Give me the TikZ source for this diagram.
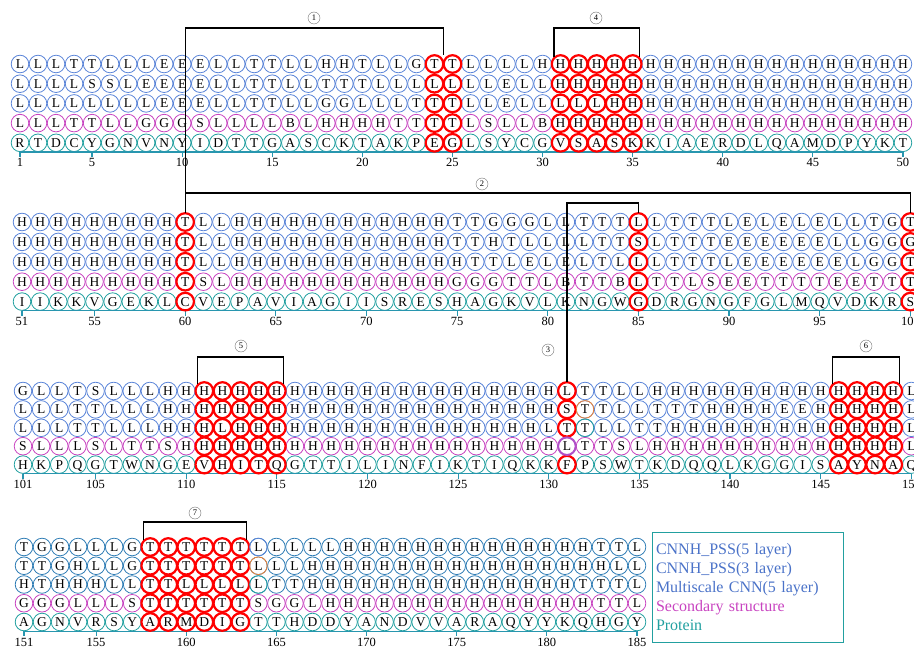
\documentclass[tikz,border=0pt]{standalone}
\usepackage{fontspec}
\setmainfont{Liberation Serif}
\usetikzlibrary{calc}
\definecolor{rowblue}{RGB}{90,132,216}
\definecolor{rowsteel}{RGB}{47,125,181}
\definecolor{rowmagenta}{RGB}{200,67,192}
\definecolor{rowteal}{RGB}{34,160,160}
\definecolor{axisteal}{RGB}{40,150,175}
\definecolor{ringorange}{RGB}{240,130,50}
\definecolor{ringpurple}{RGB}{176,80,200}
\definecolor{legendblue}{RGB}{74,114,200}

% one row of residues: \seqrow{first index}{row}{colour} LETTERS \relax
\newcount\aacol
\newcommand{\setblock}[4]{\def\bkx{#1}\def\bks{#2}\def\bky{#3}\def\bkdy{#4}}
\newcommand{\seqrow}[3]{\def\sqfirst{#1}\def\sqrow{#2}\def\sqcolor{#3}%
  \aacol=0 \pgfmathsetmacro\sqy{\bky+(#2-1)*\bkdy}\seqnext}
\newcommand{\seqnext}[1]{\ifx#1\relax\else
  \pgfmathsetmacro\sqx{\bkx+\the\aacol*\bks}%
  \pgfmathtruncatemacro\sqidx{\sqfirst+\the\aacol}%
  \node[res=\sqcolor] (c\sqidx r\sqrow) at (\sqx,\sqy) {#1};%
  \advance\aacol by 1 %
  \expandafter\seqnext\fi}

\begin{document}
\begin{tikzpicture}[x=1pt, y=-1pt,
  res/.style={circle, draw=#1, line width=0.8pt, minimum size=17.6pt, inner sep=0pt,
              text height=8.9pt, text depth=0pt, font=\fontsize{13.5}{13.5}\selectfont},
  hl/.style={draw=red, line width=2.2pt},
  recol/.style={draw=#1, line width=0.8pt},
  bond/.style={draw=black, line width=1.2pt},
  bondlbl/.style={circle, draw=black!55, line width=0.4pt, inner sep=0pt,
                  minimum size=12pt, font=\fontsize{8.5}{8.5}\selectfont},
  axisline/.style={draw=axisteal, line width=1.2pt},
  ticklbl/.style={anchor=north, inner sep=1pt, font=\fontsize{12.5}{12.5}\selectfont},
  legendbox/.style={draw=rowteal, line width=1pt, minimum width=191pt,
                    minimum height=110pt, text width=183pt, align=left,
                    inner sep=4pt, font=\fontsize{16}{19}\selectfont}
]
\useasboundingbox (0,0) rectangle (914,650);

% block 1: residues 1-50
\setblock{20}{18.02}{64}{19.7}
\seqrow{1}{1}{rowblue} LLLTTLLLEE ELLTTLLHHT LLGTTLLLLH HHHHHHHHHH HHHHHHHHHH\relax
\seqrow{1}{2}{rowblue} LLLLSSLEEE ELLTTLLTTT LLLLLLLELL HHHHHHHHHH HHHHHHHHHH\relax
\seqrow{1}{3}{rowblue} LLLLLLLLEE ELLTTLLGGL LLTTTLLELL LLLHHHHHHH HHHHHHHHHH\relax
\seqrow{1}{4}{rowmagenta} LLLTTLLGGG SLLLLBLHHH HTTTTLSLLB HHHHHHHHHH HHHHHHHHHH\relax
\seqrow{1}{5}{rowteal} RTDCYGNVNY IDTTGASCKT AKPEGLSYCG VSASKKIAER DLQAMDPYKT\relax

% block 2: residues 51-100
\setblock{22}{18.13}{222}{19.9}
\seqrow{51}{1}{rowblue} HHHHHHHHHT LLHHHHHHHH HHHHTTGGGL LTTTLLTTTL ELELELLTGT\relax
\seqrow{51}{2}{rowblue} HHHHHHHHHT LLHHHHHHHH HHHHTTHTLL LLTTSLTTTE EEEEELLGGG\relax
\seqrow{51}{3}{rowblue} HHHHHHHHHT LLHHHHHHHH HHHHHTTLEL ELTLLLTTTL EEEEEELGGT\relax
\seqrow{51}{4}{rowmagenta} HHHHHHHHHT SLHHHHHHHH HHHHGGGTTL BTTBLTTLSE ETTTTEETTT\relax
\seqrow{51}{5}{rowteal} IIKKVGEKLC VEPAVIAGII SRESHAGKVL KNGWGDRGNG FGLMQVDKRS\relax

% block 3: residues 101-150
\setblock{23}{18.13}{391}{18.4}
\seqrow{101}{1}{rowblue} GLLTSLLLHH HHHHHHHHHH HHHHHHHHHH LTTLLHHHHH HHHHHHHHHL\relax
\seqrow{101}{2}{rowblue} LLLTTLLLHH HHHHHHHHHH HHHHHHHHHH STTLLTTTHH HHEEHHHHHL\relax
\seqrow{101}{3}{rowblue} LLLTTLLLHH HLHHHHHHHH HHHHHHHHHL TTLLTTHHHH HHHHHHHHHL\relax
\seqrow{101}{4}{rowmagenta} SLLLSLTTSH HHHHHHHHHH HHHHHHHHHH LTTSLHHHHH HHHHHHHHHL\relax
\seqrow{101}{5}{rowteal} HKPQGTWNGE VHITQGTTIL INFIKTIQKK FPSWTKDQQL KGGISAYNAQ\relax

% block 4: residues 151-185
\setblock{24}{18.03}{547}{18.75}
\seqrow{151}{1}{rowsteel} TGGLLLGTTT TTTLLLLLHH HHHHHHHHHH HHTTL\relax
\seqrow{151}{2}{rowsteel} TTGHLLGTTT TTTLLLHHHH HHHHHHHHHH HHHLL\relax
\seqrow{151}{3}{rowsteel} HTHHHLLTTL LLLLTTHHHH HHHHHHHHHH HTTTL\relax
\seqrow{151}{4}{rowmagenta} GGGLLLSTTT TTTSGGLHHH HHHHHHHHHH HHTTL\relax
\seqrow{151}{5}{rowteal} AGNVRSYARM DIGTTHDDYA NDVVARAQYY KQHGY\relax

% position axes
\draw[axisline] (c1r5.south) -- (c50r5.south);
\foreach \k in {1,5,10,...,50}
  \draw[axisline] (c\k r5.south) -- ++(0,5) node[ticklbl] (t\k) {\k};
\draw[axisline] (c51r5.south) -- (c100r5.south);
\foreach \k in {51,55,60,...,100}
  \draw[axisline] (c\k r5.south) -- ++(0,5) node[ticklbl] (t\k) {\k};
\draw[axisline] (c101r5.south) -- (c150r5.south);
\foreach \k in {101,105,110,...,150}
  \draw[axisline] (c\k r5.south) -- ++(0,5) node[ticklbl] (t\k) {\k};
\draw[axisline] (c151r5.south) -- (c185r5.south);
\foreach \k in {151,155,160,...,185}
  \draw[axisline] (c\k r5.south) -- ++(0,5) node[ticklbl] (t\k) {\k};

% highlighted residues
\foreach \ci in {24,25,31,32,33,34,35,60,85,100,111,112,113,114,115,
                 146,147,148,149,158,159,160,161,162,163}
  \foreach \ri in {1,...,5}
    \draw[hl] (c\ci r\ri.center) circle[radius=8.8pt];
\foreach \ri in {1,2,3,5}
  \draw[hl] (c131r\ri.center) circle[radius=8.8pt];
\draw[draw=ringpurple, line width=2pt] (c131r4.center) circle[radius=8.8pt];
\draw[recol=ringorange] (c132r2.center) circle[radius=8.8pt];
\draw[recol=rowteal] (c132r3.center) circle[radius=8.8pt];
\draw[recol=rowblue] (c164r1.center) circle[radius=8.8pt];
\draw[recol=ringorange] (c164r2.center) circle[radius=8.8pt];
\draw[recol=rowteal] (c164r3.center) circle[radius=8.8pt];

% contact brackets
\coordinate (lvlA) at (0,28);
\coordinate (lvlB) at (0,193);
\coordinate (lvlC) at (0,203);
\coordinate (lvlD) at (0,357);
\coordinate (lvlE) at (0,522);
\coordinate (mid2425) at ($(c24r1.north)!0.5!(c25r1.north)$);
\draw[bond] (c60r1.north) -- (c60r1.north |- lvlA) -| (mid2425);
\draw[bond] (c60r1.north |- lvlB) -| (c100r1.north);
\draw[bond] (c131r1.north) -- (c131r1.north |- lvlC) -| (c85r1.north);
\draw[bond] (c31r1.north west) -- (c31r1.north west |- lvlA) -| (c35r1.north east);
\draw[bond] (c111r1.north west) -- (c111r1.north west |- lvlD) -| (c115r1.north east);
\draw[bond] (c146r1.north west) -- (c146r1.north west |- lvlD) -| (c149r1.north east);
\draw[bond] (c158r1.north west) -- (c158r1.north west |- lvlE) -| (c163r1.north east);

\node[bondlbl] (lbl1) at (314,18) {1};
\node[bondlbl] (lbl2) at (482,184) {2};
\node[bondlbl] (lbl3) at (548,350) {3};
\node[bondlbl] (lbl4) at (596,18) {4};
\node[bondlbl] (lbl5) at (241,346) {5};
\node[bondlbl] (lbl6) at (866,346) {6};
\node[bondlbl] (lbl7) at (195,513) {7};

% legend
\node[legendbox] (legend) at (747.5,587) {%
  \textcolor{legendblue}{CNNH\_PSS(5 layer)}\\
  \textcolor{legendblue}{CNNH\_PSS(3 layer)}\\
  \textcolor{legendblue}{Multiscale CNN(5 layer)}\\
  \textcolor{rowmagenta}{Secondary structure}\\
  \textcolor{rowteal}{Protein}};
\end{tikzpicture}
\end{document}
